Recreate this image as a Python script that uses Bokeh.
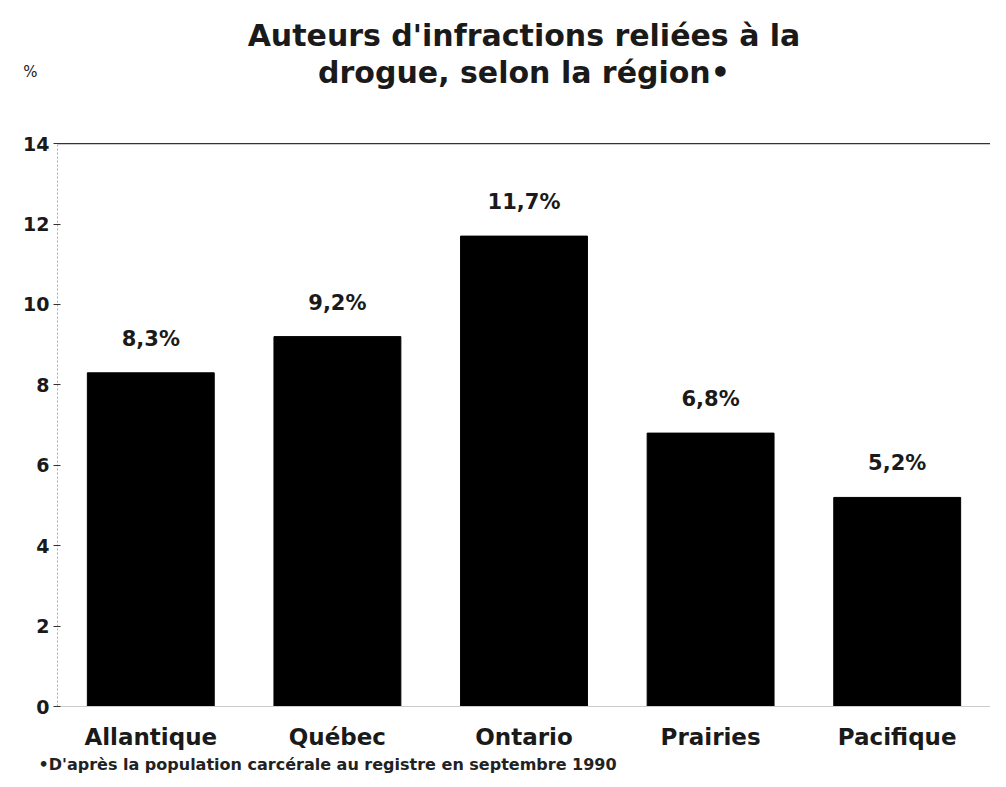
from bokeh.plotting import figure
from bokeh.models import (FactorRange, Range1d, Span, Label, ColumnDataSource, FixedTicker,
                          Title, LinearAxis)
from bokeh.core.properties import value
from bokeh.embed import file_html
from bokeh.resources import INLINE

regions = ["Allantique", "Québec", "Ontario", "Prairies", "Pacifique"]
shares = [8.3, 9.2, 11.7, 6.8, 5.2]
labels = ["8,3%", "9,2%", "11,7%", "6,8%", "5,2%"]
y_ticks = [0, 2, 4, 6, 8, 10, 12, 14]
title_lines = ["Auteurs d'infractions reliées à la", "drogue, selon la région•"]
unit_label = "%"
footnote = "•D'après la population carcérale au registre en septembre 1990"

FONT = "DejaVu Sans"
YTOP = 17.56

p = figure(frame_width=933, frame_height=706, output_backend="svg", toolbar_location=None,
           x_range=FactorRange(factors=regions, range_padding=0),
           y_range=Range1d(0, YTOP),
           min_border_left=57, min_border_right=0, min_border_top=0, min_border_bottom=0)
p.outline_line_color = None
p.xgrid.visible = False
p.ygrid.visible = False
p.background_fill_color = "white"

src = ColumnDataSource(dict(x=regions, top=shares, lab=labels))
p.vbar(x="x", top="top", width=0.68, source=src, fill_color="black", line_color="black")
p.text(x="x", y="top", text="lab", source=src, text_align="center", text_baseline="middle",
       y_offset=-34, text_font=value(FONT), text_font_size="21px", text_font_style="bold",
       text_color="#1a1a1a")

p.add_layout(Span(location=14, dimension="width", line_color="#333333", line_width=1.2))

yax = p.yaxis[0]
yax.ticker = FixedTicker(ticks=y_ticks)
yax.bounds = (0, 14)
yax.axis_line_color = "#aaaaaa"
yax.axis_line_dash = "2 2"
yax.major_tick_in = 3
yax.major_tick_out = 4
yax.major_tick_line_color = "#333333"
yax.minor_tick_line_color = None
yax.major_label_text_font = FONT
yax.major_label_text_font_size = "19px"
yax.major_label_text_font_style = "bold"
yax.major_label_text_color = "#1a1a1a"
yax.major_label_standoff = 4

# unit label "%" as an extra, line-less axis on the left
uax = LinearAxis(ticker=FixedTicker(ticks=[15.77]), major_label_overrides={15.77: unit_label},
                 axis_line_color=None, major_tick_line_color=None, minor_tick_line_color=None,
                 major_label_text_font=FONT, major_label_text_font_size="15px",
                 major_label_text_color="#1a1a1a", major_label_standoff=-23)
p.add_layout(uax, "left")

xax = p.xaxis[0]
xax.axis_line_color = "#cccccc"
xax.major_tick_line_color = None
xax.minor_tick_line_color = None
xax.major_label_text_font = FONT
xax.major_label_text_font_size = "23px"
xax.major_label_text_font_style = "bold"
xax.major_label_text_color = "#1a1a1a"
xax.major_label_standoff = 11

p.add_layout(Title(text=footnote, align="left", offset=-19, text_font=FONT,
                   text_font_size="16px", text_font_style="bold", text_color="#222222",
                   standoff=0), "below")

p.add_layout(Label(x=2.5, y=16.69, text=title_lines[0], text_align="center", text_baseline="middle",
                   text_font=FONT, text_font_size="30px", text_font_style="bold", text_color="#1a1a1a"))
p.add_layout(Label(x=2.5, y=15.77, text=title_lines[1], text_align="center", text_baseline="middle",
                   text_font=FONT, text_font_size="30px", text_font_style="bold", text_color="#1a1a1a"))

open("out.html", "w").write(file_html(p, INLINE))
